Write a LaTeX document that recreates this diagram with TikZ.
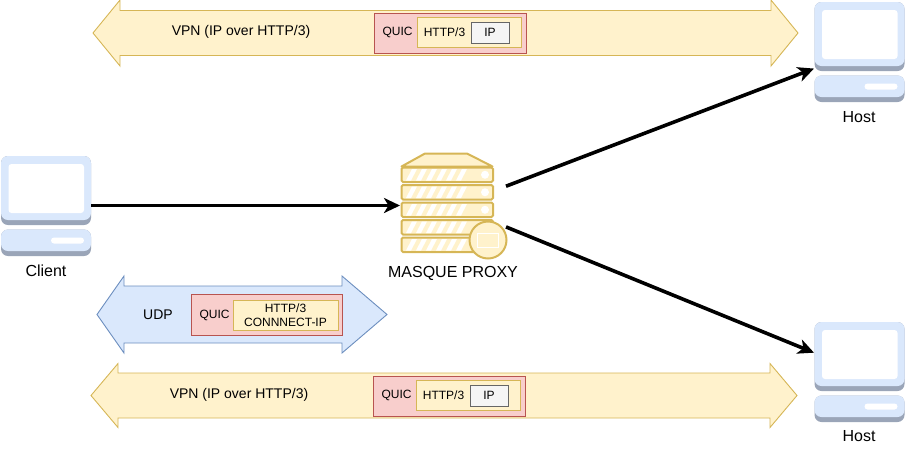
\documentclass[tikz,border=0pt]{standalone}
\usepackage{fontspec}
\setmainfont{Liberation Sans}
\usepackage{tikz}
\usetikzlibrary{arrows.meta}

\definecolor{yelfill}{HTML}{FFF2CC}
\definecolor{yelline}{HTML}{D6B656}
\definecolor{blufill}{HTML}{DAE8FC}
\definecolor{bluline}{HTML}{6C8EBF}
\definecolor{redfill}{HTML}{F8CECC}
\definecolor{redline}{HTML}{B85450}
\definecolor{pcshade}{HTML}{9AA5B8}

\tikzset{
  bigarrow/.style={draw=#1line,fill=#1fill,line width=0.9pt,line join=miter},
  box/.style={draw=#1line,fill=#1fill,line width=1pt,inner sep=0pt,outer sep=0pt},
  txt/.style={font=\fontsize{12}{14}\selectfont,inner sep=0pt,align=center},
  bigtxt/.style={font=\fontsize{14}{16}\selectfont,inner sep=0pt},
  devtxt/.style={font=\fontsize{16}{18}\selectfont,inner sep=0pt},
  hull/.style={minimum width=#1,minimum height=100pt,inner sep=0pt,outer sep=0pt},
  link/.style={-{Stealth[length=16pt,width=15pt,inset=4.5pt]},line width=3.6pt,black},
  computer/.pic={
    \fill[pcshade,rounded corners=7pt] (0,0) rectangle (90,69);
    \fill[blufill,rounded corners=7pt] (0,0) rectangle (90,64);
    \fill[white,rounded corners=3pt] (7.5,8) rectangle (83,57);
    \fill[pcshade,rounded corners=7pt] (0,73.5) rectangle (90,100);
    \fill[blufill,rounded corners=7pt] (0,73.5) rectangle (90,95);
    \fill[white,rounded corners=3pt] (50,81.5) rectangle (83,87.5);
  }
}

\begin{document}
\begin{tikzpicture}[x=1pt,y=-1pt]
  \useasboundingbox (0,0) rectangle (905,448);

  % Tunnels
  \foreach \lx/\lb/\rb/\rx/\c/\hh/\sh/\col in {93/120/771/798/33/33/22.5/yel,91/118/770/797/395.5/32/22.5/yel,97/124/342/387/314.5/38.5/28.5/blu}
    \draw[bigarrow=\col] (\lx,\c) -- (\lb,\c-\hh) -- (\lb,\c-\sh) -- (\rb,\c-\sh) -- (\rb,\c-\hh)
      -- (\rx,\c) -- (\rb,\c+\hh) -- (\rb,\c+\sh) -- (\lb,\c+\sh) -- (\lb,\c+\hh) -- cycle;

  % VPN stacks
  \foreach \n/\dx/\dy/\vx in {a/0/0/241,b/-1/363/239} {
    \node[bigtxt] (vpn\n) at (\vx,32+\dy) {VPN (IP over HTTP/3)};
    \node[box=red,minimum width=152pt,minimum height=40pt] (quic\n) at (450+\dx,33+\dy) {};
    \node[box=yel,minimum width=104pt,minimum height=30pt] (http\n) at (469+\dx,32+\dy) {};
    \node[draw=black!60,fill=black!4,line width=1pt,minimum width=38pt,minimum height=21pt,inner sep=0pt] (ip\n) at (490+\dx,32.5+\dy) {};
    \node[txt] (quiclab\n) at (397.5+\dx,32.5+\dy) {QUIC};
    \node[txt] (httplab\n) at (444.5+\dx,32.5+\dy) {HTTP/3};
    \node[txt] (iplab\n) at (490+\dx,32.5+\dy) {IP};
  }

  % UDP stack
  \node[bigtxt] (udp) at (158,314.5) {UDP};
  \node[box=red,minimum width=151pt,minimum height=41pt] (quicc) at (266.5,314.5) {};
  \node[box=yel,minimum width=105pt,minimum height=30pt] (httpc) at (285.5,315) {};
  \node[txt] (quiclabc) at (214.5,315) {QUIC};
  \node[txt] (connect) at (285.5,315.5) {HTTP/3\\CONNNECT-IP};

  % Computers
  \pic at (1,156) {computer};
  \pic at (814.5,2) {computer};
  \pic at (814.5,322) {computer};
  \node[hull=91pt] (client) at (45.5,205.5) {};
  \node[hull=91pt] (hosta) at (859.5,52) {};
  \node[hull=91pt] (hostb) at (859.5,372) {};
  \node[devtxt] (clientlab) at (46,270.5) {Client};
  \node[devtxt] (hostalab) at (859,117) {Host};
  \node[devtxt] (hostblab) at (859,436.5) {Host};

  % Proxy
  \draw[yelline,fill=yelfill,line width=2pt,line join=round] (401.5,166.5) -- (425,153.5) -- (467,153.5) -- (492.5,166.5) -- cycle;
  \foreach \y in {167.5,185,202.5,220,237.5} {
    \draw[yelline,fill=yelfill,line width=2pt,rounded corners=1.5pt] (401.5,\y) rectangle (493,\y+14.5);
    \foreach \x in {0,1,...,5}
      \fill[white] (412+\x*10,\y+1.5) -- (417+\x*10,\y+1.5) -- (411+\x*10,\y+13) -- (406+\x*10,\y+13) -- cycle;
    \fill[white] (485,\y+7.25) circle (4);
  }
  \draw[yelline,fill=yelfill,line width=2pt] (488,240) circle (18.5);
  \draw[white,fill=yelfill,line width=1pt] (477,233) rectangle (498,247);
  \node[hull=106pt] (proxy) at (453,205.5) {};
  \node[devtxt] (proxylab) at (453,273.5) {MASQUE PROXY};

  % Links
  \draw[link] (client.east) -- (proxy.west);
  \draw[link] (proxy.20.7) -- (hosta.200.5);
  \draw[link] (proxy.-22.5) -- (hostb.157.3);
\end{tikzpicture}
\end{document}
